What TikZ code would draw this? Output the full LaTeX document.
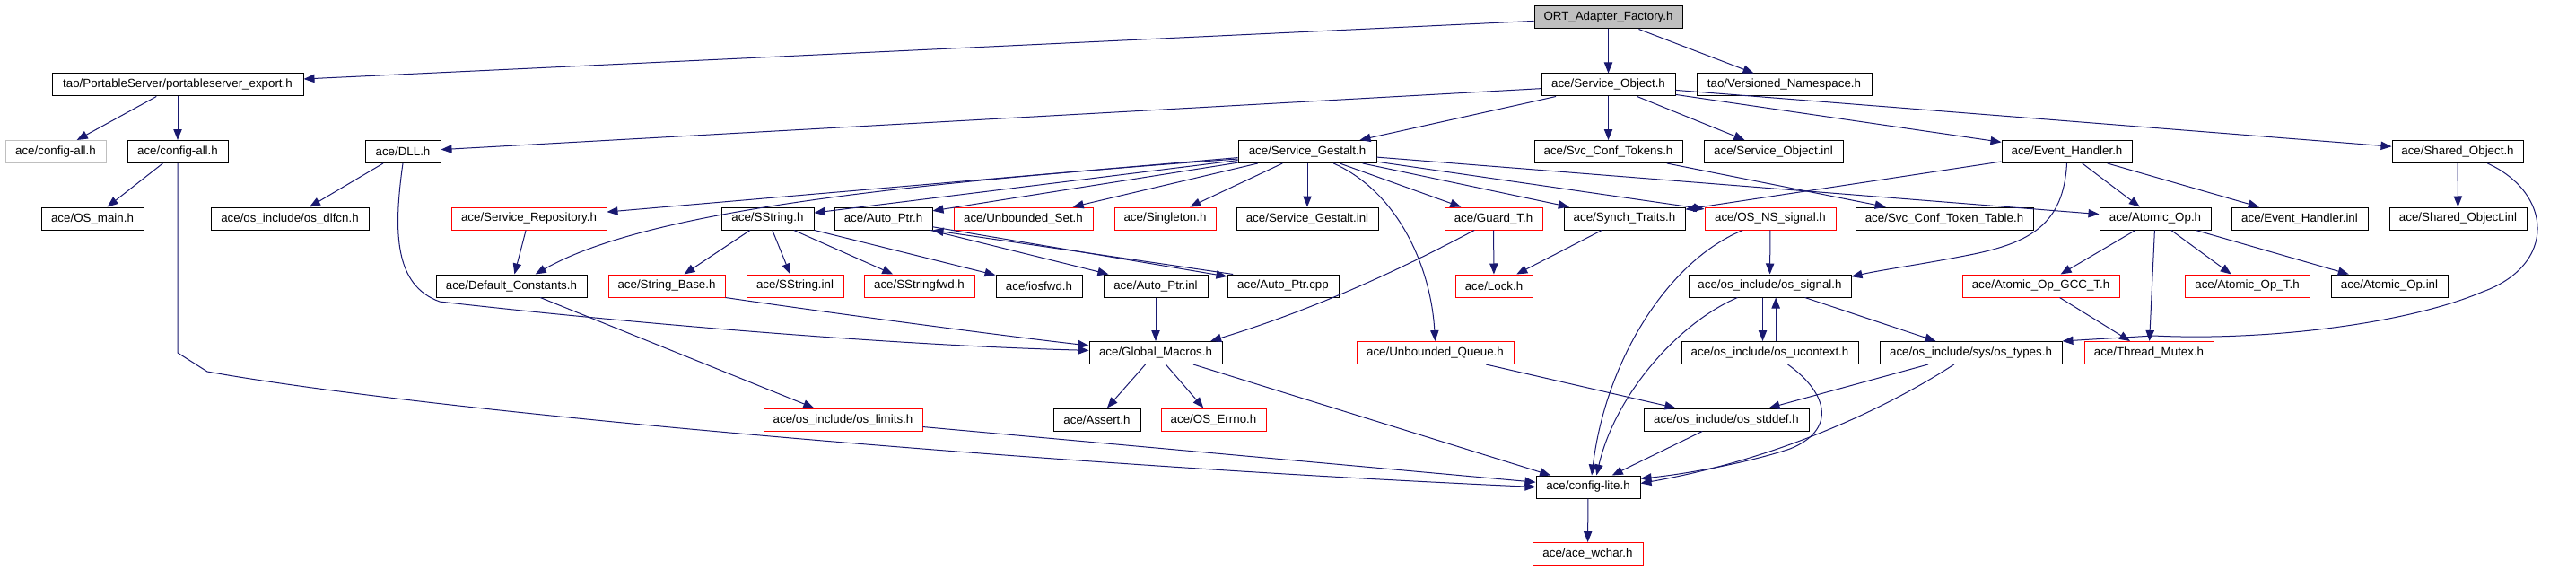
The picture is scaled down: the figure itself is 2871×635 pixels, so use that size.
\documentclass[tikz,border=0pt]{standalone}
\usepackage{fontspec}
\setmainfont{Liberation Sans}
\usetikzlibrary{arrows.meta}
\definecolor{edgec}{RGB}{25,25,112}
\definecolor{ortgray}{RGB}{191,191,191}
\begin{document}
\begin{tikzpicture}[x=0.75pt,y=-0.75pt,
  box/.style={draw=black, line width=0.75pt, inner sep=0pt, minimum height=18.75pt, font=\fontsize{10}{12}\selectfont},
  redbox/.style={box, draw=red},
  graybox/.style={box, draw=ortgray},
  dep/.style={draw=edgec, line width=0.75pt, -{Triangle[length=9pt,width=7pt]}}]
\fill[white] (0,0) rectangle (2871,635);
\useasboundingbox (0,0) rectangle (2871,635);
% row 0
\node[box, fill=ortgray, minimum width=123.75pt] (ort) at (1792.5,19.5) {ORT\_Adapter\_Factory.h};
% row 1
\node[box, minimum width=210pt] (pse) at (198,94.5) {tao/PortableServer/portableserver\_export.h};
\node[box, minimum width=111.75pt] (so) at (1792.5,94.5) {ace/Service\_Object.h};
\node[box, minimum width=146.25pt] (vn) at (1988.5,94.5) {tao/Versioned\_Namespace.h};
% row 2
\node[graybox, minimum width=84pt] (cag) at (62,169) {ace/config-all.h};
\node[box, minimum width=84pt] (ca) at (198,169) {ace/config-all.h};
\node[box, minimum width=63pt] (dll) at (449,169) {ace/DLL.h};
\node[box, minimum width=115.5pt] (sg) at (1457,169) {ace/Service\_Gestalt.h};
\node[box, minimum width=123.75pt] (sct) at (1792.5,169) {ace/Svc\_Conf\_Tokens.h};
\node[box, minimum width=116.25pt] (soi) at (1976.5,169) {ace/Service\_Object.inl};
\node[box, minimum width=108.75pt] (eh) at (2303.5,169) {ace/Event\_Handler.h};
\node[box, minimum width=109.5pt] (sho) at (2739,169) {ace/Shared\_Object.h};
% row 3
\node[box, minimum width=85.5pt] (osm) at (103,243.5) {ace/OS\_main.h};
\node[box, minimum width=132pt] (dlfcn) at (323,243.5) {ace/os\_include/os\_dlfcn.h};
\node[redbox, minimum width=129.75pt] (srep) at (589.5,243.5) {ace/Service\_Repository.h};
\node[box, minimum width=77.25pt] (ss) at (855.5,243.5) {ace/SString.h};
\node[box, minimum width=81.75pt] (ap) at (984.5,243.5) {ace/Auto\_Ptr.h};
\node[redbox, minimum width=116.25pt] (us) at (1140.5,243.5) {ace/Unbounded\_Set.h};
\node[redbox, minimum width=84.75pt] (sing) at (1298.5,243.5) {ace/Singleton.h};
\node[box, minimum width=118.5pt] (sgi) at (1457,243.5) {ace/Service\_Gestalt.inl};
\node[redbox, minimum width=81.75pt] (gt) at (1664.5,243.5) {ace/Guard\_T.h};
\node[box, minimum width=101.25pt] (st) at (1810.5,243.5) {ace/Synch\_Traits.h};
\node[redbox, minimum width=109.5pt] (nssig) at (1973,243.5) {ace/OS\_NS\_signal.h};
\node[box, minimum width=148.5pt] (sctt) at (2167,243.5) {ace/Svc\_Conf\_Token\_Table.h};
\node[box, minimum width=93pt] (ao) at (2402,243.5) {ace/Atomic\_Op.h};
\node[box, minimum width=114pt] (ehi) at (2563,243.5) {ace/Event\_Handler.inl};
\node[box, minimum width=114.75pt] (shoi) at (2739.5,243.5) {ace/Shared\_Object.inl};
% row 4
\node[box, minimum width=126pt] (dc) at (570,318.5) {ace/Default\_Constants.h};
\node[redbox, minimum width=97.5pt] (sb) at (743,318.5) {ace/String\_Base.h};
\node[redbox, minimum width=81pt] (ssi) at (886,318.5) {ace/SString.inl};
\node[redbox, minimum width=92.25pt] (ssf) at (1024.5,318.5) {ace/SStringfwd.h};
\node[box, minimum width=72pt] (ios) at (1158,318.5) {ace/iosfwd.h};
\node[box, minimum width=87pt] (api) at (1288,318.5) {ace/Auto\_Ptr.inl};
\node[box, minimum width=93pt] (apc) at (1430,318.5) {ace/Auto\_Ptr.cpp};
\node[redbox, minimum width=64.5pt] (lock) at (1665,318.5) {ace/Lock.h};
\node[box, minimum width=135.75pt] (osig) at (1972.5,318.5) {ace/os\_include/os\_signal.h};
\node[redbox, minimum width=131.25pt] (aogcc) at (2274.5,318.5) {ace/Atomic\_Op\_GCC\_T.h};
\node[redbox, minimum width=104.25pt] (aot) at (2504.5,318.5) {ace/Atomic\_Op\_T.h};
\node[box, minimum width=97.5pt] (aoi) at (2663,318.5) {ace/Atomic\_Op.inl};
% row 5
\node[box, minimum width=111pt] (gm) at (1288,393) {ace/Global\_Macros.h};
\node[redbox, minimum width=131.25pt] (uq) at (1599.5,393) {ace/Unbounded\_Queue.h};
\node[box, minimum width=147.75pt] (uctx) at (1972.5,393) {ace/os\_include/os\_ucontext.h};
\node[box, minimum width=152.25pt] (ost) at (2196.5,393) {ace/os\_include/sys/os\_types.h};
\node[redbox, minimum width=108pt] (tm) at (2395,393) {ace/Thread\_Mutex.h};
% row 6
\node[redbox, minimum width=132.75pt] (lim) at (939.5,467.5) {ace/os\_include/os\_limits.h};
\node[box, minimum width=72.75pt] (as) at (1222.5,467.5) {ace/Assert.h};
\node[redbox, minimum width=87.75pt] (err) at (1352.5,467.5) {ace/OS\_Errno.h};
\node[box, minimum width=138pt] (std) at (1924,467.5) {ace/os\_include/os\_stddef.h};
% row 7, 8
\node[box, minimum width=87pt] (cl) at (1770,542.5) {ace/config-lite.h};
\node[redbox, minimum width=92.25pt] (wc) at (1769.5,617) {ace/ace\_wchar.h};

% edges
\draw[dep] (ort) -- (pse);
\draw[dep] (ort) -- (so);
\draw[dep] (ort) -- (vn);
\draw[dep] (pse) -- (cag);
\draw[dep] (pse) -- (ca);
\draw[dep] (ca) -- (osm);
\draw[dep] (ca.south) -- (198,393) -- (231,414) .. controls (500,462) and (1200,520) .. (cl.west);
\draw[dep] (so) -- (dll);
\draw[dep] (so) -- (sg);
\draw[dep] (so) -- (sct);
\draw[dep] (so) -- (soi);
\draw[dep] (so) -- (eh);
\draw[dep] (so) -- (sho);
\draw[dep] (dll) -- (dlfcn);
\draw[dep] (dll.south) .. controls (438,260) and (440,318) .. (490,336) .. controls (700,360) and (1000,385) .. ([yshift=2pt]gm.west);
\draw[dep] (sg) -- (srep);
\draw[dep] ([yshift=-6pt]sg.west) .. controls (1000,205) and (720,235) .. ([xshift=20pt]dc.north);
\draw[dep] (sg) -- (ss);
\draw[dep] (sg) -- (ap);
\draw[dep] (sg) -- (us);
\draw[dep] (sg) -- (sing);
\draw[dep] (sg) -- (sgi);
\draw[dep] (sg) -- (gt);
\draw[dep] (sg) -- (st);
\draw[dep] (sg) -- (nssig);
\draw[dep] (sg) -- (ao);
\draw[dep] ([xshift=22pt]sg.south) .. controls (1560,215) and (1595,300) .. (uq.north);
\draw[dep] (sct) -- (sctt);
\draw[dep] (eh) -- (st);
\draw[dep] (eh.south) .. controls (2300,250) and (2262,270) .. (2200,283) .. controls (2140,295) and (2100,300) .. ([yshift=-2pt]osig.north east);
\draw[dep] (eh) -- (ao);
\draw[dep] (eh) -- (ehi);
\draw[dep] (sho) -- (shoi);
\draw[dep] ([xshift=25pt]sho.south) .. controls (2845,215) and (2850,295) .. (2767,325) .. controls (2680,362) and (2520,380) .. (2400,374) -- (ost.north east);
\draw[dep] (srep) -- (dc);
\draw[dep] (ss) -- (sb);
\draw[dep] (ss) -- (ssi);
\draw[dep] (ss) -- (ssf);
\draw[dep] (ss) -- (ios);
\draw[dep] (ap) -- (api);
\draw[dep] (ap) -- (apc);
\draw[dep] ([xshift=5pt]apc.north west) -- (ap.south east);
\draw[dep] (api) -- (gm);
\draw[dep] (sb.south east) .. controls (900,345) and (1100,372) .. ([yshift=6pt]gm.west);
\draw[dep] (dc) -- (lim);
\draw[dep] (gt) -- (lock);
\draw[dep] ([xshift=-16pt]gt.south) .. controls (1580,290) and (1480,340) .. ([xshift=-10pt]gm.north east);
\draw[dep] (st) -- (lock);
\draw[dep] (nssig) -- (osig);
\draw[dep] ([xshift=-23pt]nssig.south) .. controls (1860,290) and (1790,400) .. ([xshift=3pt]cl.north);
\draw[dep] ([xshift=-27pt]osig.south) .. controls (1870,360) and (1800,440) .. ([xshift=7pt]cl.north);
\draw[dep] ([xshift=-6pt]osig.south) -- ([xshift=-6pt]uctx.north);
\draw[dep] ([xshift=5pt]uctx.north) -- ([xshift=5pt]osig.south);
\draw[dep] (osig) -- (ost);
\draw[dep] ([xshift=15pt]uctx.south) .. controls (2040,440) and (2045,480) .. (1995,500) .. controls (1950,515) and (1880,528) .. ([yshift=7pt]cl.east);
\draw[dep] (ost) -- (std);
\draw[dep] ([xshift=-14pt]ost.south) .. controls (2110,450) and (1990,510) .. ([yshift=3pt]cl.east);
\draw[dep] (std) -- (cl);
\draw[dep] (uq) -- (std);
\draw[dep] (gm) -- (as);
\draw[dep] (gm) -- (err);
\draw[dep] (gm) -- (cl);
\draw[dep] (lim) -- (cl);
\draw[dep] (cl) -- (wc);
\draw[dep] (ao) -- (aogcc);
\draw[dep] (ao) -- (aot);
\draw[dep] (ao) -- (aoi);
\draw[dep] (ao) -- (tm);
\draw[dep] (aogcc) -- (tm);
\end{tikzpicture}
\end{document}
